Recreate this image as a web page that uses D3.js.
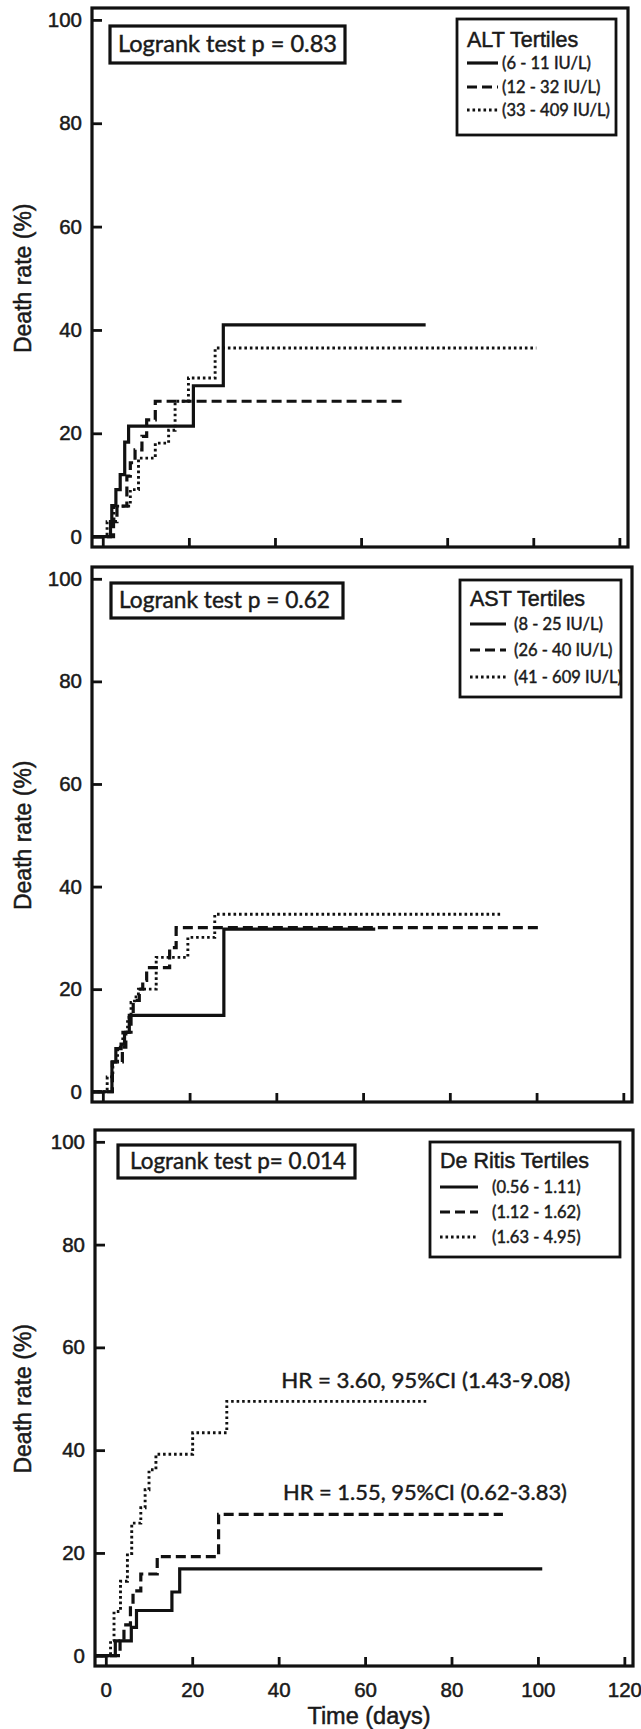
<!DOCTYPE html>
<html>
<head>
<meta charset="utf-8">
<script src="https://cdnjs.cloudflare.com/ajax/libs/d3/7.8.5/d3.min.js"></script>
<style>
  body { margin: 0; background: #fff; }
  svg { display: block; }
  .axis text { font-family: 'Liberation Sans', Arial, sans-serif; font-size: 20.5px; fill: #1a1a1a; stroke: #1a1a1a; stroke-width: 0.5px; }
  .axis line { stroke: #111; stroke-width: 2.8; }
  .calib { font-family: Lato, 'Open Sans', sans-serif; fill: #1a1a1a; stroke: #1a1a1a; stroke-width: 0.45px; }
  .arial { font-family: 'Liberation Sans', Arial, sans-serif; fill: #1a1a1a; stroke: #1a1a1a; stroke-width: 0.5px; }
</style>
</head>
<body>
<svg id="chart" width="641" height="1729"></svg>
<script>
'use strict';

var xTicks = [0, 20, 40, 60, 80, 100, 120];
var yTicks = [0, 20, 40, 60, 80, 100];

var legendTitles = ['ALT Tertiles', 'AST Tertiles', 'De Ritis Tertiles'];
var logrankTexts = ['Logrank test p = 0.83', 'Logrank test p = 0.62', 'Logrank test p= 0.014'];

var altLabels = ['(6 - 11 IU/L)', '(12 - 32 IU/L)', '(33 - 409 IU/L)'];
var astLabels = ['(8 - 25 IU/L)', '(26 - 40 IU/L)', '(41 - 609 IU/L)'];
var deRitisLabels = ['(0.56 - 1.11)', '(1.12 - 1.62)', '(1.63 - 4.95)'];

// cumulative death rate, [day, %] at each step
var altLow = [[1.8, 2.9], [2.1, 6.0], [3.05, 9.1], [4.05, 12.0], [5.1, 18.3], [6.0, 21.4], [21.05, 29.2], [28.0, 41.0]];
var altMid = [[2.5, 2.9], [3.3, 5.9], [5.6, 11.7], [6.4, 14.3], [7.5, 16.8], [9.1, 19.4], [10.2, 22.6], [12.2, 26.2]];
var altHigh = [[1.0, 2.9], [2.6, 5.9], [6.4, 9.1], [8.3, 15.2], [12.2, 18.1], [15.3, 20.6], [16.8, 26.2], [19.9, 30.7], [26.1, 36.5]];
var altFollowUp = [75, 69.4, 100.7];

var astLow = [[2.1, 5.8], [3.0, 8.4], [4.2, 9.3], [5.0, 11.6], [6.1, 14.9], [27.9, 31.7]];
var astMid = [[2.2, 5.8], [4.5, 8.7], [5.3, 11.6], [6.5, 14.8], [7.0, 17.8], [8.4, 20.0], [9.2, 21.7], [10.1, 24.2], [15.4, 28.1], [16.9, 32.0]];
var astHigh = [[1.0, 2.9], [2.3, 5.8], [3.4, 8.7], [4.6, 11.6], [5.7, 14.5], [6.5, 17.4], [7.3, 18.5], [8.2, 20.0], [12.3, 26.2], [19.6, 30.1], [25.8, 34.6]];
var astFollowUp = [62.8, 101.2, 91.9];

var drLow = [[2.2, 2.9], [5.9, 5.5], [7.1, 8.8], [15.3, 12.4], [17.1, 16.9]];
var drMid = [[3.3, 2.9], [4.2, 6.0], [5.7, 10.0], [6.3, 12.6], [8.1, 15.9], [11.9, 19.3], [26.1, 27.5]];
var drHigh = [[1.1, 2.9], [1.9, 8.6], [3.4, 14.5], [5.0, 19.9], [6.0, 25.8], [8.1, 28.8], [9.1, 32.3], [10.0, 36.2], [11.6, 39.2], [20.1, 43.4], [28.0, 49.5]];
var drFollowUp = [101, 91.9, 74.7];

var hrTexts = ['HR = 3.60, 95%CI (1.43-9.08)', 'HR = 1.55, 95%CI (0.62-3.83)'];

var panelData = [
  {title: legendTitles[0], logrank: logrankTexts[0], labels: altLabels, series: [altLow, altMid, altHigh], ends: altFollowUp},
  {title: legendTitles[1], logrank: logrankTexts[1], labels: astLabels, series: [astLow, astMid, astHigh], ends: astFollowUp},
  {title: legendTitles[2], logrank: logrankTexts[2], labels: deRitisLabels, series: [drLow, drMid, drHigh], ends: drFollowUp}
];

// layout (pixels) for each panel
var layout = [
  {top: 8, bottom: 547, left: 92, right: 628,
    box: {x: 110, y: 26, w: 235, h: 37, tx: 118, ty: 52, tw: 219},
    legend: {x: 457, y: 19, w: 159, h: 116, titleY: 28, rows: [44, 68, 91], sample: 31, textX: 45}},
  {top: 567, bottom: 1102, left: 92, right: 632,
    box: {x: 111, y: 583, w: 232, h: 35, tx: 119, ty: 608, tw: 211},
    legend: {x: 460, y: 580, w: 161, h: 117, titleY: 26, rows: [44, 70, 97], sample: 36, textX: 54}},
  {top: 1130, bottom: 1666, left: 95, right: 633,
    box: {x: 118, y: 1145, w: 237, h: 33, tx: 130, ty: 1169, tw: 216},
    legend: {x: 430, y: 1142, w: 190, h: 115, titleY: 26, rows: [45, 70, 95], sample: 38, textX: 62}}
];

// HR annotations in data units (day, %) on the last panel
var hrPlacement = [[40.6, 52.0], [41.0, 30.3]];
var hrWidths = [289, 284];

var styles = [
  {dash: null, width: 3.2},
  {dash: '10,5', width: 3.2},
  {dash: '2.6,2.9', width: 2.9}
];

var svg = d3.select('#chart');

function drawPanel(d, L, i) {
  var x = d3.scaleLinear().domain([-2.5, 122]).range([L.left, L.right]);
  var y = d3.scaleLinear().domain([-2, 102.3]).range([L.bottom, L.top]);
  var g = svg.append('g');

  var line = d3.line()
    .x(function(p) { return x(p[0]); })
    .y(function(p) { return y(p[1]); })
    .curve(d3.curveStepAfter);

  d.series.forEach(function(events, k) {
    var pts = [[x.domain()[0], 0]].concat(events);
    pts.push([d.ends[k], events[events.length - 1][1]]);
    g.append('path')
      .attr('d', line(pts))
      .attr('fill', 'none')
      .attr('stroke', '#111')
      .attr('stroke-width', styles[k].width)
      .attr('stroke-dasharray', styles[k].dash);
  });

  var yAxis = d3.axisLeft(y).tickValues(yTicks).tickSize(-10).tickPadding(10);
  g.append('g').attr('class', 'axis')
    .attr('transform', 'translate(' + L.left + ',0)')
    .call(yAxis)
    .call(function(a) { a.select('.domain').remove(); });

  var xAxis = d3.axisBottom(x).tickValues(xTicks).tickSize(-9).tickPadding(16);
  if (i < 2) {
    xAxis.tickFormat('');
  }
  g.append('g').attr('class', 'axis')
    .attr('transform', 'translate(0,' + L.bottom + ')')
    .call(xAxis)
    .call(function(a) { a.select('.domain').remove(); });

  g.append('rect')
    .attr('x', L.left).attr('y', L.top)
    .attr('width', L.right - L.left).attr('height', L.bottom - L.top)
    .attr('fill', 'none').attr('stroke', '#111').attr('stroke-width', 3.2);

  g.append('text')
    .attr('class', 'arial')
    .attr('transform', 'translate(31,' + (y(0) + y(100)) / 2 + ') rotate(-90)')
    .attr('text-anchor', 'middle')
    .style('font-size', '23px')
    .text('Death rate (%)');

  // logrank box
  var b = L.box;
  g.append('rect')
    .attr('x', b.x).attr('y', b.y).attr('width', b.w).attr('height', b.h)
    .attr('fill', '#fff').attr('stroke', '#111').attr('stroke-width', 3.2);
  g.append('text')
    .attr('class', 'calib')
    .attr('x', b.tx).attr('y', b.ty)
    .attr('textLength', b.tw).attr('lengthAdjust', 'spacingAndGlyphs')
    .style('font-size', '22.5px')
    .text(d.logrank);

  // legend
  var lg = L.legend;
  var leg = g.append('g').attr('transform', 'translate(' + lg.x + ',' + lg.y + ')');
  leg.append('rect')
    .attr('width', lg.w).attr('height', lg.h)
    .attr('fill', '#fff').attr('stroke', '#111').attr('stroke-width', 2.8);
  leg.append('text')
    .attr('class', 'arial')
    .attr('x', 10).attr('y', lg.titleY)
    .style('font-size', '21.5px')
    .text(d.title);
  d.labels.forEach(function(label, k) {
    leg.append('line')
      .attr('x1', 10).attr('x2', 10 + lg.sample)
      .attr('y1', lg.rows[k]).attr('y2', lg.rows[k])
      .attr('stroke', '#111')
      .attr('stroke-width', styles[k].width)
      .attr('stroke-dasharray', styles[k].dash);
    leg.append('text')
      .attr('class', 'calib')
      .attr('x', lg.textX).attr('y', lg.rows[k])
      .attr('dy', '0.35em')
      .style('font-size', '16.5px')
      .text(label);
  });

  if (i === 2) {
    hrTexts.forEach(function(t, k) {
      g.append('text')
        .attr('class', 'calib')
        .attr('x', x(hrPlacement[k][0])).attr('y', y(hrPlacement[k][1]))
        .attr('textLength', hrWidths[k]).attr('lengthAdjust', 'spacingAndGlyphs')
        .style('font-size', '21px')
        .text(t);
    });
    g.append('text')
      .attr('class', 'arial')
      .attr('x', 369).attr('y', 1724)
      .attr('text-anchor', 'middle')
      .style('font-size', '23.5px')
      .text('Time (days)');
  }
}

panelData.forEach(function(d, i) {
  drawPanel(d, layout[i], i);
});
</script>
</body>
</html>
